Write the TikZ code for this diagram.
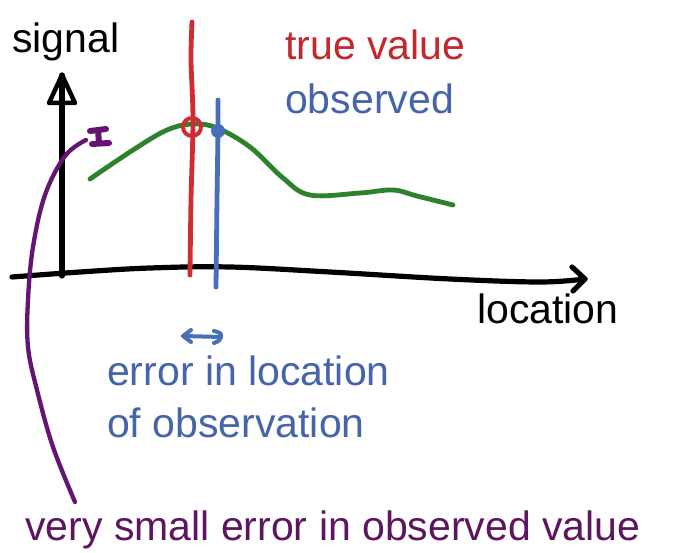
\documentclass[tikz,border=0pt]{standalone}
\usepackage{fontspec}
\setmainfont{Liberation Sans}
\usetikzlibrary{arrows.meta}
\definecolor{cred}{RGB}{208,45,50}
\definecolor{cblue}{RGB}{72,112,185}
\definecolor{cgreen}{RGB}{45,130,45}
\definecolor{cpurple}{RGB}{100,20,115}
\definecolor{tred}{RGB}{195,40,45}
\definecolor{tblue}{RGB}{70,100,170}
\definecolor{tpurple}{RGB}{95,20,95}
\begin{document}
\begin{tikzpicture}[x=1pt,y=-1pt,
  txt/.style={inner sep=0pt, anchor=base west, font=\fontsize{41}{49}\selectfont},
  pen/.style={line width=4.8pt, line cap=round, line join=round},
  ink/.style={pen, line width=5.2pt}]
\useasboundingbox[fill=white] (0,0) rectangle (685,553);

% texts
\node[txt] (signal) at (12,53) {signal};
\node[txt,text=tred] (true) at (285,60) {true value};
\node[txt,text=tblue] (obs) at (285,114) {observed};
\node[txt] (loc) at (477,323) {location};
\node[txt,text=tblue] (err1) at (107,385) {error in location};
\node[txt,text=tblue] (err2) at (107,437) {of observation};
\node[txt,text=tpurple] (small) at (25,540) {very small error in observed value};

% y axis with open triangle head
\coordinate (yb) at (62,276);
\coordinate (yt) at (62,75);
\draw[ink] (yb) -- (yt);
\draw[ink, line width=4.5pt] (yt) -- (49,103) -- (75,103) -- cycle;

% x axis with open chevron head
\coordinate (xl) at (12,277);
\coordinate (xr) at (585,279);
\draw[ink] plot[smooth, tension=0.6] coordinates {(12,277) (80,272) (150,268) (230,267) (330,272) (450,279) (540,282) (585,279)};
\draw[ink] (572,267) -- (xr) -- (573,291);

% signal curve
\draw[pen, cgreen] plot[smooth, tension=0.6] coordinates {(90,179) (133,150) (167,130) (193,124) (217,128) (250,147) (283,178) (310,195) (360,193) (393,190) (417,196) (453,205)};

% true value line and marker
\coordinate (rt) at (192,22);
\coordinate (rb) at (190,275);
\draw[pen, cred] plot[smooth] coordinates {(192,22) (191,60) (193,120) (191,200) (190,275)};
\node[circle, draw=cred, line width=4pt, minimum size=18pt, inner sep=0pt] (tv) at (192,127) {};

% observed line and marker
\coordinate (bt) at (218,100);
\coordinate (bb) at (216,287);
\draw[pen, cblue] plot[smooth] coordinates {(218,100) (218,130) (217,200) (216,287)};
\node[circle, fill=cblue, minimum size=14pt, inner sep=0pt] (ov) at (218,131) {};

% location error arrow
\coordinate (ea) at (183,336);
\coordinate (eb) at (221,337);
\draw[pen, cblue, line width=4pt] (ea) -- (eb);
\draw[pen, cblue, line width=4pt] (191,330) -- (ea) -- (191,342);
\draw[pen, cblue, line width=4pt] (214,331) .. controls (221,333) .. (eb) .. controls (219,341) .. (214,343);

% purple pointer
\coordinate (pm) at (86,140);
\coordinate (pe) at (75,502);
\draw[pen, line width=4.3pt, cpurple] plot[smooth, tension=0.6] coordinates {(86,140) (65,156) (45,195) (33,247) (28,300) (28,347) (37,390) (53,447) (75,502)};
\draw[line width=6pt, cpurple, line cap=round] (90,131) -- (106,129) (98,130) -- (99,143) (92,144) -- (109,143);
\end{tikzpicture}
\end{document}
